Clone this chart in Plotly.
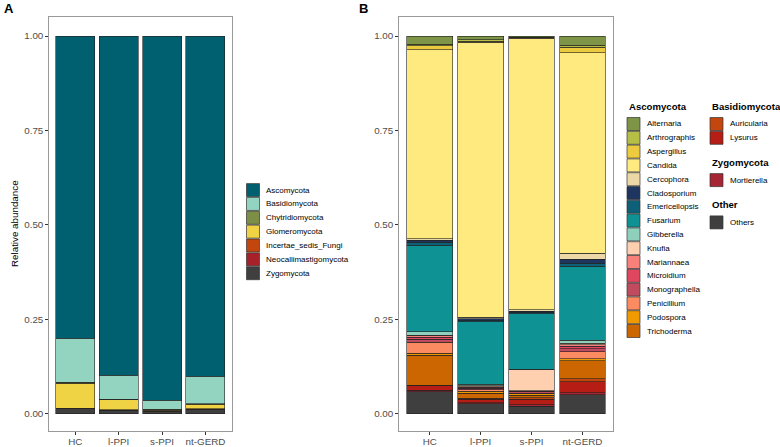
import plotly.graph_objects as go

W, H = 780, 447
groups = ["HC", "l-PPI", "s-PPI", "nt-GERD"]
tick_vals = [0, 0.25, 0.5, 0.75, 1.0]
tick_text = ["0.00", "0.25", "0.50", "0.75", "1.00"]

# ---------- Panel A: phylum level (legend order = top of stack first) ----------
phyla = ["Ascomycota", "Basidiomycota", "Chytridiomycota", "Glomeromycota",
         "Incertae_sedis_Fungi", "Neocallimastigomycota", "Zygomycota"]
phyla_colors = ["#00606F", "#93D4C0", "#7D8F46", "#EFD345", "#C4460F", "#A62129", "#3F3F3F"]
Ascomycota = [0.800, 0.898, 0.964, 0.900]
Basidiomycota = [0.117, 0.063, 0.024, 0.073]
Chytridiomycota = [0.002, 0.002, 0.003, 0.002]
Glomeromycota = [0.066, 0.026, 0.002, 0.012]
Incertae_sedis_Fungi = [0.001, 0.001, 0.001, 0.001]
Neocallimastigomycota = [0.000, 0.001, 0.001, 0.001]
Zygomycota = [0.014, 0.009, 0.005, 0.011]
phyla_values = [Ascomycota, Basidiomycota, Chytridiomycota, Glomeromycota,
                Incertae_sedis_Fungi, Neocallimastigomycota, Zygomycota]

# ---------- Panel B: genus level ----------
genera = ["Alternaria", "Arthrographis", "Aspergillus", "Candida", "Cercophora",
          "Cladosporium", "Emericellopsis", "Fusarium", "Gibberella", "Knufia",
          "Mariannaea", "Microidium", "Monographella", "Penicillium", "Podospora",
          "Trichoderma", "Auricularia", "Lysurus", "Mortierella", "Others"]
genus_colors = ["#7E9447", "#B5BE45", "#EDCB3F", "#FFEA80", "#EBD8A6",
                "#1E3560", "#0D6078", "#0F9294", "#8ED0BB", "#FFD0B0",
                "#F8807A", "#E0465F", "#C04A5E", "#FC8B62", "#EE9A00",
                "#CC6600", "#C4460F", "#B51D15", "#A52634", "#3F3F3F"]
Alternaria = [0.022, 0.010, 0.003, 0.025]
Arthrographis = [0.004, 0.004, 0.002, 0.005]
Aspergillus = [0.010, 0.002, 0.001, 0.014]
Candida = [0.501, 0.728, 0.718, 0.531]
Cercophora = [0.004, 0.004, 0.005, 0.016]
Cladosporium = [0.005, 0.004, 0.002, 0.010]
Emericellopsis = [0.008, 0.004, 0.004, 0.009]
Fusarium = [0.229, 0.166, 0.147, 0.195]
Gibberella = [0.009, 0.004, 0.001, 0.008]
Knufia = [0.002, 0.002, 0.056, 0.004]
Mariannaea = [0.003, 0.002, 0.001, 0.004]
Microidium = [0.006, 0.003, 0.002, 0.007]
Monographella = [0.007, 0.003, 0.003, 0.008]
Penicillium = [0.030, 0.004, 0.002, 0.018]
Podospora = [0.005, 0.005, 0.004, 0.006]
Trichoderma = [0.079, 0.014, 0.006, 0.047]
Auricularia = [0.002, 0.002, 0.004, 0.008]
Lysurus = [0.011, 0.010, 0.015, 0.029]
Mortierella = [0.004, 0.003, 0.004, 0.006]
Others = [0.059, 0.026, 0.020, 0.050]
genus_values = [Alternaria, Arthrographis, Aspergillus, Candida, Cercophora,
                Cladosporium, Emericellopsis, Fusarium, Gibberella, Knufia,
                Mariannaea, Microidium, Monographella, Penicillium, Podospora,
                Trichoderma, Auricularia, Lysurus, Mortierella, Others]

legend_groups_B = [
    ("Ascomycota", genera[:16]),
    ("Basidiomycota", ["Auricularia", "Lysurus"]),
    ("Zygomycota", ["Mortierella"]),
    ("Other", ["Others"]),
]

FONT = "Liberation Sans, Arial, Helvetica, sans-serif"
OUTLINE = "#222222"


def px(x):
    return x / W


def py(y):
    return 1 - y / H


fig = go.Figure()

# stacked bars: first trace added = bottom of stack
for name, col, vals in reversed(list(zip(phyla, phyla_colors, phyla_values))):
    fig.add_trace(go.Bar(x=groups, y=vals, name=name, marker_color=col,
                         marker_line_color=OUTLINE, marker_line_width=0.6,
                         width=0.9, xaxis="x", yaxis="y", showlegend=False))

for name, col, vals in reversed(list(zip(genera, genus_colors, genus_values))):
    fig.add_trace(go.Bar(x=groups, y=vals, name=name, marker_color=col,
                         marker_line_color=OUTLINE, marker_line_width=0.6,
                         width=0.9, xaxis="x2", yaxis="y2", showlegend=False))

y_dom = [py(431), py(16.5)]
y_rng = [-(431 - 413.8) / 377.8, 1 + (36 - 16.5) / 377.8]
axis_common = dict(showline=True, mirror=True, linecolor="#9A9A9A", linewidth=1,
                   showgrid=False, zeroline=False, ticks="outside", ticklen=3,
                   tickcolor="#333333", tickwidth=1,
                   tickfont=dict(family=FONT, size=9.8, color="#4D4D4D"))

fig.update_layout(
    width=W, height=H, autosize=False,
    margin=dict(l=0, r=0, t=0, b=0),
    paper_bgcolor="white", plot_bgcolor="white",
    barmode="stack", bargap=0.1,
    showlegend=False,
    font=dict(family=FONT),
    xaxis=dict(domain=[px(49.3), px(231.5)], range=[-0.6, 3.6], type="category",
               anchor="y", ticklabelstandoff=-2, **axis_common),
    yaxis=dict(domain=y_dom, range=y_rng, tickvals=tick_vals, ticktext=tick_text,
               anchor="x", **axis_common),
    xaxis2=dict(domain=[px(399.2), px(613)], range=[-0.6, 3.6], type="category",
                anchor="y2", ticklabelstandoff=-2, **axis_common),
    yaxis2=dict(domain=y_dom, range=y_rng, tickvals=tick_vals, ticktext=tick_text,
                anchor="x2", **axis_common),
)

shapes = []
annotations = []

# panel labels
annotations.append(dict(x=px(2), y=py(8), xref="paper", yref="paper", text="<b>A</b>",
                        showarrow=False, xanchor="left", yanchor="middle",
                        font=dict(family=FONT, size=13, color="black")))
annotations.append(dict(x=px(357), y=py(8), xref="paper", yref="paper", text="<b>B</b>",
                        showarrow=False, xanchor="left", yanchor="middle",
                        font=dict(family=FONT, size=13, color="black")))
# y-axis title
annotations.append(dict(x=px(14), y=py(224), xref="paper", yref="paper",
                        text="Relative abundance", textangle=-90, showarrow=False,
                        xanchor="center", yanchor="middle",
                        font=dict(family=FONT, size=9.8, color="black")))

KEY = 13
STEP = 13.85


def add_key(xk, yc, color, label):
    shapes.append(dict(type="rect", xref="paper", yref="paper",
                       x0=px(xk), x1=px(xk + KEY), y0=py(yc + KEY / 2), y1=py(yc - KEY / 2),
                       fillcolor=color, line=dict(color="#333333", width=0.7)))
    annotations.append(dict(x=px(xk + KEY + 4.5), y=py(yc), xref="paper", yref="paper",
                            text=label, showarrow=False, xanchor="left", yanchor="middle",
                            font=dict(family=FONT, size=8, color="black")))


def add_title(xk, yc, label):
    annotations.append(dict(x=px(xk - 0.5), y=py(yc), xref="paper", yref="paper",
                            text="<b>%s</b>" % label, showarrow=False, xanchor="left",
                            yanchor="middle", font=dict(family=FONT, size=9.6, color="black")))


# Legend A
for i, (name, col) in enumerate(zip(phyla, phyla_colors)):
    add_key(246.5, 190.1 + i * STEP, col, name)

# Legend B
gcol = dict(zip(genera, genus_colors))
# column 1: Ascomycota
add_title(627, 106, legend_groups_B[0][0])
for i, g in enumerate(legend_groups_B[0][1]):
    add_key(627, 124 + i * 13.8, gcol[g], g)
# column 2
y = 106
for title, items in legend_groups_B[1:]:
    add_title(710, y, title)
    y += 18
    for g in items:
        add_key(710, y, gcol[g], g)
        y += 13.8
    y += 10.5

fig.update_layout(shapes=shapes, annotations=annotations)
fig.write_html("out.html", config={"displayModeBar": False},
               post_script="document.body.style.margin='0px';")
